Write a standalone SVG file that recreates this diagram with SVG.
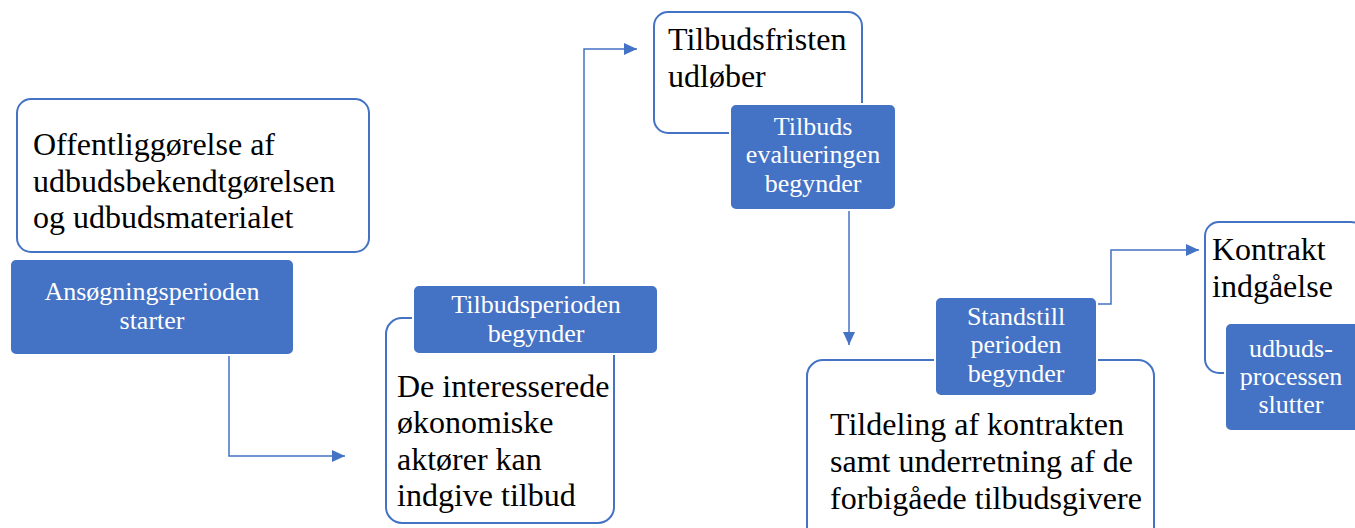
<svg xmlns="http://www.w3.org/2000/svg" width="1355" height="528" viewBox="0 0 1355 528">
<defs>
<marker id="arr" markerUnits="userSpaceOnUse" markerWidth="14" markerHeight="14" refX="13" refY="7" orient="auto">
<path d="M0,1 L13,7 L0,13 z" fill="#4472C4"/>
</marker>
<style>
.box{fill:#fff;stroke:#4472C4;stroke-width:2}
.dark{fill:#4472C4;stroke:#fff;stroke-width:2}
.bt{font-family:"Liberation Serif","Times New Roman",serif;font-size:32px;fill:#000}
.wt{font-family:"Liberation Serif","Times New Roman",serif;font-size:26px;fill:#fff;text-anchor:middle}
.con{fill:none;stroke:#4472C4;stroke-width:1.5}
</style>
</defs>
<rect width="1355" height="528" fill="#fff"/>
<g id="connectors">
<path class="con" d="M229,354 V456 H345" marker-end="url(#arr)"/>
<path class="con" d="M584,285 V49 H637" marker-end="url(#arr)"/>
<path class="con" d="M849,210 V345" marker-end="url(#arr)"/>
<path class="con" d="M1097,304 H1111 V250 H1199" marker-end="url(#arr)"/>
</g>
<g id="node1">
<rect class="box" x="17" y="99" width="352" height="153" rx="14"/>
<text class="bt" x="33" y="155">Offentliggørelse af</text>
<text class="bt" x="33" y="192">udbudsbekendtgørelsen</text>
<text class="bt" x="33" y="228">og udbudsmaterialet</text>
</g>
<g id="node1b">
<rect class="dark" x="10" y="259" width="284" height="96" rx="6"/>
<text class="wt" x="152" y="300">Ansøgningsperioden</text>
<text class="wt" x="152" y="329">starter</text>
</g>
<g id="node2">
<rect class="box" x="386" y="318" width="228" height="205" rx="16"/>
<text class="bt" x="397" y="397">De interesserede</text>
<text class="bt" x="397" y="433">økonomiske</text>
<text class="bt" x="397" y="470">aktører kan</text>
<text class="bt" x="397" y="506">indgive tilbud</text>
</g>
<g id="node2b">
<rect class="dark" x="413" y="285" width="245" height="69" rx="6"/>
<text class="wt" x="536" y="313">Tilbudsperioden</text>
<text class="wt" x="536" y="342">begynder</text>
</g>
<g id="node3">
<rect class="box" x="654" y="12" width="208" height="121" rx="14"/>
<text class="bt" x="668" y="50">Tilbudsfristen</text>
<text class="bt" x="668" y="87">udløber</text>
</g>
<g id="node3b">
<rect class="dark" x="730" y="104" width="166" height="106" rx="6"/>
<text class="wt" x="813" y="135">Tilbuds</text>
<text class="wt" x="813" y="163">evalueringen</text>
<text class="wt" x="813" y="192">begynder</text>
</g>
<g id="node4">
<rect class="box" x="807" y="360" width="347" height="190" rx="16"/>
<text class="bt" x="830" y="435">Tildeling af kontrakten</text>
<text class="bt" x="830" y="472">samt underretning af de</text>
<text class="bt" x="830" y="509">forbigåede tilbudsgivere</text>
</g>
<g id="node4b">
<rect class="dark" x="935" y="297" width="162" height="99" rx="6"/>
<text class="wt" x="1016" y="325">Standstill</text>
<text class="wt" x="1016" y="353">perioden</text>
<text class="wt" x="1016" y="382">begynder</text>
</g>
<g id="node5">
<rect class="box" x="1205" y="222" width="160" height="151" rx="14"/>
<text class="bt" x="1212" y="260">Kontrakt</text>
<text class="bt" x="1212" y="297">indgåelse</text>
</g>
<g id="node5b">
<rect class="dark" x="1225" y="323" width="135" height="108" rx="6"/>
<text class="wt" x="1291" y="357">udbuds-</text>
<text class="wt" x="1291" y="385">processen</text>
<text class="wt" x="1291" y="413">slutter</text>
</g>
</svg>
